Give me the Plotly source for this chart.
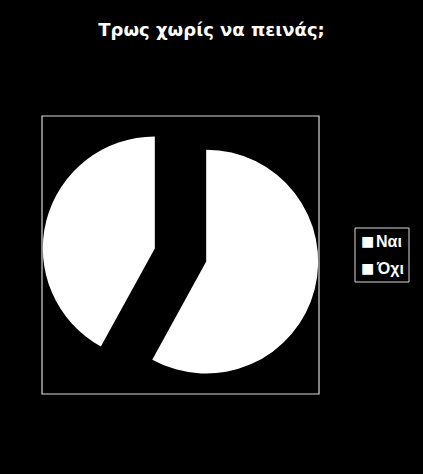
import plotly.graph_objects as go

# Answers to the poll
labels = ["Ναι", "Όχι"]
values = [58, 42]
colors = ["white", "white"]

fig = go.Figure(data=[go.Pie(labels=labels, values=values, sort=False,
                             direction="clockwise", rotation=0,
                             pull=[0.237, 0.237], textinfo="none",
                             hoverinfo="label+percent", showlegend=False,
                             marker=dict(colors=colors, line=dict(width=0)),
                             domain=dict(x=[42/423, 319/423], y=[1-394/474, 1-116/474]))])

# legend drawn by hand so it stays as compact as the original
legend_y = [241, 268]
annotations = []
for lab, yy in zip(labels, legend_y):
    annotations.append(dict(text="■", xref="paper", yref="paper",
                            x=359/423, y=1-yy/474, xanchor="left", yanchor="middle",
                            showarrow=False,
                            font=dict(family="DejaVu Sans", size=14, color="white")))
    annotations.append(dict(text="<b>" + lab + "</b>", xref="paper", yref="paper",
                            x=374/423, y=1-yy/474, xanchor="left", yanchor="middle",
                            showarrow=False,
                            font=dict(family="Liberation Sans", size=16, color="white")))

fig.update_layout(
    width=423, height=474,
    paper_bgcolor="black", plot_bgcolor="black",
    margin=dict(l=0, r=0, t=0, b=0),
    title=dict(text="<b>Τρως χωρίς να πεινάς;</b>", x=0.5, xanchor="center",
               y=1-30/474, yanchor="middle",
               font=dict(family="DejaVu Sans", size=18, color="white")),
    annotations=annotations,
    shapes=[dict(type="rect", xref="paper", yref="paper",
                 x0=42/423, x1=319/423, y0=1-394/474, y1=1-116/474,
                 line=dict(color="#d9d9d9", width=1.2)),
            dict(type="rect", xref="paper", yref="paper",
                 x0=355/423, x1=409/423, y0=1-282/474, y1=1-228/474,
                 line=dict(color="#d9d9d9", width=1))],
)

fig.write_html("out.html", config={"displayModeBar": False},
               post_script="document.body.style.margin='0';")
